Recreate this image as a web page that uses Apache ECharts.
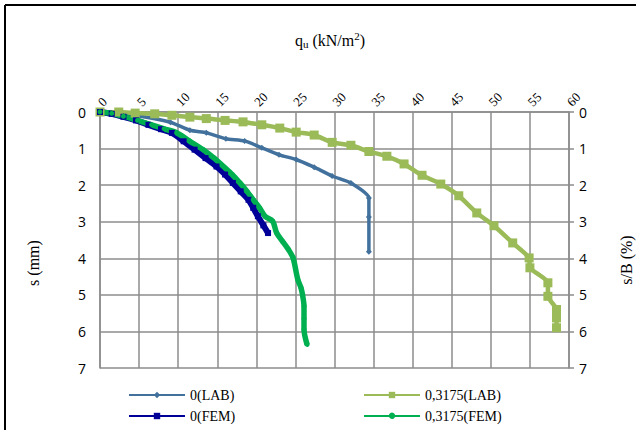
<!DOCTYPE html>
<html>
<head>
<meta charset="utf-8">
<script src="https://cdn.jsdelivr.net/npm/echarts@6/dist/echarts.min.js"></script>
<style>
  html, body { margin: 0; padding: 0; background: #fff; overflow: hidden; }
  #chart { width: 636px; height: 430px; position: absolute; left: 0; top: 0; }
</style>
</head>
<body>
<div id="chart"></div>
<script>
// 0(LAB)
var labQ0 = [0, 4.3, 9.0, 11.5, 13.6, 16.1, 18.5, 20.7, 22.9, 25.1, 27.4, 29.7, 32.1, 34.4, 34.4, 34.4];
var labS0 = [0, 0.09, 0.28, 0.50, 0.57, 0.73, 0.79, 0.98, 1.17, 1.30, 1.51, 1.75, 1.94, 2.35, 2.87, 3.82];
// 0,3175(LAB)
var labQ1 = [0, 2.4, 4.5, 7.0, 9.2, 11.5, 13.6, 16.0, 18.3, 20.7, 23.0, 25.1, 27.4, 29.7, 32.1, 34.4, 36.7, 38.9, 41.2, 43.6, 45.9, 48.2, 50.4, 52.8, 54.9, 55.0, 57.3, 57.3, 58.4, 58.4, 58.4];
var labS1 = [0, 0.00, 0.03, 0.05, 0.09, 0.14, 0.18, 0.23, 0.27, 0.35, 0.44, 0.55, 0.63, 0.83, 0.91, 1.08, 1.21, 1.42, 1.73, 1.97, 2.29, 2.76, 3.11, 3.58, 3.99, 4.26, 4.67, 5.04, 5.40, 5.63, 5.90];
// 0(FEM)
var femQ0 = [0, 1.5, 3.0, 4.6, 6.2, 7.8, 9.2, 10.7, 12.1, 13.5, 14.9, 16.0, 17.0, 18.0, 19.0, 19.6, 20.2, 20.9, 21.5];
var femS0 = [0, 0.05, 0.13, 0.23, 0.35, 0.47, 0.57, 0.80, 1.03, 1.26, 1.49, 1.71, 1.94, 2.17, 2.40, 2.62, 2.85, 3.10, 3.31];
// 0,3175(FEM)
var femQ1 = [0, 1.5, 3.0, 4.8, 6.6, 8.2, 9.8, 11.5, 13.2, 14.6, 15.8, 16.9, 17.9, 18.8, 19.6, 20.4, 21.1, 22.1, 22.6, 23.4, 24.1, 24.7, 25.3, 25.7, 25.9, 26.1, 26.1, 26.1, 26.5];
var femS1 = [0, 0.04, 0.12, 0.23, 0.35, 0.46, 0.57, 0.80, 1.03, 1.26, 1.49, 1.71, 1.94, 2.17, 2.40, 2.62, 2.85, 2.99, 3.31, 3.55, 3.76, 3.99, 4.58, 4.80, 4.99, 5.31, 5.65, 5.95, 6.36];

function pairs(qs, ss) {
  return qs.map(function (q, i) { return [q, ss[i]]; });
}

var serif = 'Liberation Serif, DejaVu Serif, serif';
var sans = 'Open Sans, Noto Sans, sans-serif';
var gridColor = '#8c8c8c';

var option = {
  backgroundColor: '#fff',
  animation: false,
  grid: { left: 100, right: 67, top: 112, bottom: 62 },
  xAxis: {
    type: 'value',
    position: 'top',
    min: 0, max: 60, interval: 5,
    axisLine: { show: true, lineStyle: { color: gridColor, width: 1.5 } },
    axisTick: { show: true, length: 0 },
    splitLine: { show: true, lineStyle: { color: gridColor, width: 1.5, type: 'solid' } },
    axisLabel: { rotate: 45, margin: 8, fontFamily: serif, fontSize: 13, color: '#000' }
  },
  yAxis: [
    {
      type: 'value', inverse: true,
      min: 0, max: 7, interval: 1,
      axisLine: { show: true, lineStyle: { color: gridColor, width: 1.5 } },
      axisTick: { show: true, length: 0 },
      splitLine: { show: true, lineStyle: { color: gridColor, width: 1.5, type: 'solid' } },
      axisLabel: { margin: 14, fontFamily: sans, fontSize: 14, color: '#000' }
    },
    {
      type: 'value', inverse: true, position: 'right',
      min: 0, max: 7, interval: 1,
      axisLine: { show: true, lineStyle: { color: gridColor, width: 1.5 } },
      axisTick: { show: true, inside: false, length: 5, lineStyle: { color: gridColor, width: 1.5 } },
      splitLine: { show: false },
      axisLabel: { margin: 10, fontFamily: sans, fontSize: 14, color: '#000' }
    }
  ],
  legend: [
    {
      orient: 'vertical', left: 128, top: 388, height: 42, padding: 0,
      itemWidth: 56, itemHeight: 8, itemGap: 7,
      textStyle: { fontFamily: serif, fontSize: 14, color: '#000' },
      data: ['0(LAB)', '0(FEM)']
    },
    {
      orient: 'vertical', left: 363, top: 388, height: 42, padding: 0,
      itemWidth: 56, itemHeight: 8, itemGap: 7,
      textStyle: { fontFamily: serif, fontSize: 14, color: '#000' },
      data: ['0,3175(LAB)', '0,3175(FEM)']
    }
  ],
  series: [
    {
      name: '0(LAB)', type: 'line',
      data: pairs(labQ0, labS0),
      color: '#41719c',
      lineStyle: { width: 3.5 },
      symbol: 'diamond', symbolSize: 6, smooth: 0.2
    },
    {
      name: '0,3175(LAB)', type: 'line',
      data: pairs(labQ1, labS1),
      color: '#9bbb59',
      lineStyle: { width: 4.5 },
      symbol: 'rect', symbolSize: 9, smooth: 0.2
    },
    {
      name: '0(FEM)', type: 'line',
      data: pairs(femQ0, femS0),
      color: '#000099',
      lineStyle: { width: 6 },
      symbol: 'rect', symbolSize: 6, smooth: 0.3
    },
    {
      name: '0,3175(FEM)', type: 'line',
      data: pairs(femQ1, femS1),
      color: '#00b050',
      lineStyle: { width: 5.5 },
      symbol: 'circle', symbolSize: 5, smooth: 0.3
    }
  ],
  graphic: [
    // frame (top and left edges only, as in the source)
    { type: 'line', shape: { x1: 5, y1: 5, x2: 636, y2: 5 }, style: { stroke: '#000', lineWidth: 2 } },
    { type: 'line', shape: { x1: 5, y1: 5, x2: 5, y2: 430 }, style: { stroke: '#000', lineWidth: 2 } },
    {
      type: 'text', x: 330, y: 40,
      style: {
        text: '{n|q}{sub|u}{n| (kN/m}{sup|2}{n|)}',
        align: 'center', verticalAlign: 'middle',
        rich: {
          n: { fontFamily: serif, fontSize: 16, fill: '#000' },
          sub: { fontFamily: serif, fontSize: 11, fill: '#000', padding: [8, 0, 0, 0] },
          sup: { fontFamily: serif, fontSize: 11, fill: '#000', padding: [0, 0, 8, 0] }
        }
      }
    },
    {
      type: 'text', x: 33, y: 263, rotation: Math.PI / 2,
      style: { text: 's (mm)', align: 'center', verticalAlign: 'middle', fontFamily: serif, fontSize: 16, fill: '#000' }
    },
    {
      type: 'text', x: 626, y: 260, rotation: Math.PI / 2,
      style: { text: 's/B (%)', align: 'center', verticalAlign: 'middle', fontFamily: serif, fontSize: 16, fill: '#000' }
    }
  ]
};

// render to a static SVG in one go, so every element is in its final state at once
var myChart = echarts.init(null, null, { renderer: 'svg', ssr: true, width: 636, height: 430 });
myChart.setOption(option);
document.getElementById('chart').innerHTML = myChart.renderToSVGString();
</script>
</body>
</html>
